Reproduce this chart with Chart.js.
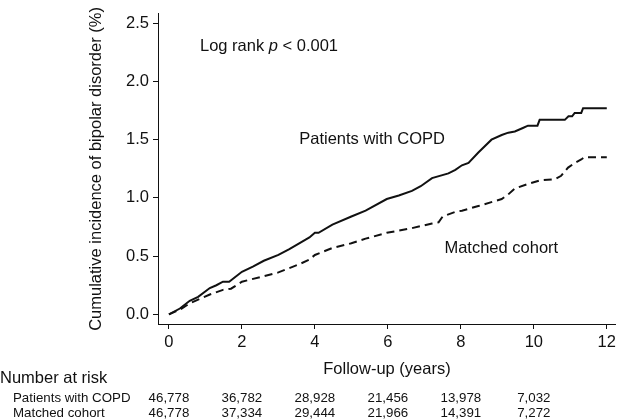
<!DOCTYPE html>
<html>
<head>
<meta charset="utf-8">
<script src="https://cdn.jsdelivr.net/npm/chart.js@4.4.1/dist/chart.umd.min.js"></script>
<style>
  html, body { margin: 0; padding: 0; background: #fff; }
  #wrap { width: 620px; height: 420px; position: relative; }
</style>
</head>
<body>
<div id="wrap"><canvas id="chart"></canvas></div>
<script>
// Cumulative incidence (%), by follow-up year
var copdYears = [0, 0.3, 0.57, 0.8, 1.12, 1.3, 1.48, 1.65, 2.0, 2.3, 2.6, 3.0, 3.3, 3.57, 3.85, 4.0, 4.1, 4.48, 5.0, 5.39, 5.97, 6.3, 6.66, 6.9, 7.21, 7.66, 7.85, 8.03, 8.21, 8.48, 8.84, 9.12, 9.3, 9.48, 9.7, 9.84, 10.1, 10.16, 10.85, 10.95, 11.05, 11.12, 11.3, 11.35, 12.0];
var copdIncidence = [0, 0.05, 0.116, 0.15, 0.226, 0.25, 0.28, 0.28, 0.365, 0.41, 0.46, 0.51, 0.56, 0.61, 0.66, 0.70, 0.70, 0.77, 0.84, 0.89, 0.99, 1.02, 1.06, 1.10, 1.17, 1.21, 1.24, 1.28, 1.30, 1.39, 1.50, 1.54, 1.56, 1.57, 1.60, 1.62, 1.62, 1.67, 1.67, 1.70, 1.70, 1.73, 1.73, 1.77, 1.77];

var matchedYears = [0, 0.3, 0.57, 1.12, 1.48, 1.7, 2.0, 2.5, 3.0, 3.57, 3.85, 4.0, 4.48, 5.0, 5.39, 5.97, 6.66, 7.21, 7.39, 7.5, 7.85, 8.03, 8.48, 9.12, 9.3, 9.48, 9.84, 10.16, 10.57, 10.75, 10.94, 11.12, 11.3, 11.39, 12.0];
var matchedIncidence = [0, 0.04, 0.094, 0.17, 0.21, 0.22, 0.28, 0.32, 0.36, 0.43, 0.47, 0.51, 0.57, 0.61, 0.65, 0.70, 0.74, 0.78, 0.79, 0.84, 0.88, 0.89, 0.93, 0.99, 1.03, 1.08, 1.12, 1.15, 1.16, 1.19, 1.26, 1.30, 1.33, 1.35, 1.35];

var xTicks = [0, 2, 4, 6, 8, 10, 12];
var yTicks = [0, 0.5, 1, 1.5, 2, 2.5];

// Number at risk table
var riskYears = [0, 2, 4, 6, 8, 10];
var riskCopd = ['46,778', '36,782', '28,928', '21,456', '13,978', '7,032'];
var riskMatched = ['46,778', '37,334', '29,444', '21,966', '14,391', '7,272'];

var FONT = '"Liberation Sans", Arial, Helvetica, sans-serif';
var INK = '#111';

function toPoints(xs, ys) {
  return xs.map(function(x, i) { return { x: x, y: ys[i] }; });
}

// curve labels and the log-rank note, placed in data coordinates
var notes = [
  { x: 0.85, y: 2.30, text: 'Log rank ', italic: 'p', rest: ' < 0.001' },
  { x: 3.57, y: 1.50, text: 'Patients with COPD' },
  { x: 7.55, y: 0.565, text: 'Matched cohort' }
];

var extras = {
  id: 'extras',
  afterDraw: function(chart) {
    var ctx = chart.ctx;
    var xs = chart.scales.x, ys = chart.scales.y;
    ctx.save();
    ctx.fillStyle = INK;
    ctx.textBaseline = 'middle';
    ctx.textAlign = 'left';

    notes.forEach(function(n) {
      var px = xs.getPixelForValue(n.x);
      var py = ys.getPixelForValue(n.y);
      ctx.font = '16.5px ' + FONT;
      ctx.fillText(n.text, px, py);
      if (n.italic) {
        px += ctx.measureText(n.text).width;
        ctx.font = 'italic 16.5px ' + FONT;
        ctx.fillText(n.italic, px, py);
        px += ctx.measureText(n.italic).width;
        ctx.font = '16.5px ' + FONT;
        ctx.fillText(n.rest, px, py);
      }
    });

    // number at risk
    ctx.font = '16.5px ' + FONT;
    ctx.fillText('Number at risk', 0, 378);
    ctx.font = '13.3px ' + FONT;
    ctx.fillText('Patients with COPD', 13, 398);
    ctx.fillText('Matched cohort', 13, 413);
    ctx.textAlign = 'center';
    riskYears.forEach(function(yr, i) {
      var px = xs.getPixelForValue(yr);
      ctx.fillText(riskCopd[i], px, 398);
      ctx.fillText(riskMatched[i], px, 413);
    });
    ctx.restore();
  }
};

new Chart(document.getElementById('chart').getContext('2d'), {
  type: 'line',
  data: {
    datasets: [
      {
        label: 'Patients with COPD',
        data: toPoints(copdYears, copdIncidence),
        borderColor: INK,
        borderWidth: 2,
        pointRadius: 0,
        tension: 0,
        fill: false
      },
      {
        label: 'Matched cohort',
        data: toPoints(matchedYears, matchedIncidence),
        borderColor: INK,
        borderWidth: 2,
        borderDash: [8, 5],
        pointRadius: 0,
        tension: 0,
        fill: false
      }
    ]
  },
  options: {
    responsive: true,
    maintainAspectRatio: false,
    animation: false,
    layout: { padding: { top: 3, right: 2, bottom: 41, left: 0 } },
    plugins: {
      legend: { display: false },
      tooltip: { enabled: false }
    },
    scales: {
      x: {
        type: 'linear',
        min: -0.3,
        max: 12.25,
        afterBuildTicks: function(s) { s.ticks = xTicks.map(function(v) { return { value: v }; }); },
        afterFit: function(s) { s.height = 55; },
        ticks: {
          color: INK,
          font: { family: FONT, size: 16.5 },
          padding: 4,
          maxRotation: 0,
          autoSkip: false,
          callback: function(v) { return String(v); }
        },
        grid: { drawOnChartArea: false, tickLength: 5, color: INK },
        border: { color: INK, width: 1 },
        title: {
          display: true,
          text: 'Follow-up (years)',
          color: INK,
          font: { family: FONT, size: 16.5 },
          padding: { top: 4, bottom: 0 }
        }
      },
      y: {
        min: -0.083,
        max: 2.58,
        afterBuildTicks: function(s) { s.ticks = yTicks.map(function(v) { return { value: v }; }); },
        afterFit: function(s) { s.width = 158; },
        ticks: {
          color: INK,
          font: { family: FONT, size: 16.5 },
          padding: 4,
          callback: function(v) { return v.toFixed(1); }
        },
        grid: { drawOnChartArea: false, tickLength: 5, color: INK },
        border: { color: INK, width: 1 },
        title: {
          display: true,
          text: 'Cumulative incidence of bipolar disorder (%)',
          color: INK,
          font: { family: FONT, size: 16.5 },
          padding: { top: 87, bottom: 0 }
        }
      }
    }
  },
  plugins: [extras]
});
</script>
</body>
</html>
